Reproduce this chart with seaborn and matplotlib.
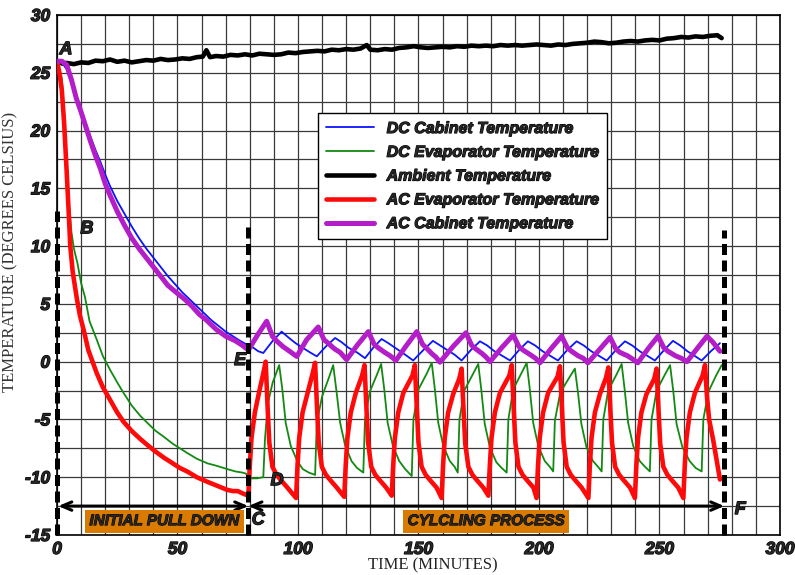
import matplotlib
matplotlib.use("Agg")
import matplotlib.pyplot as plt
import matplotlib.patheffects as pe
import seaborn as sns

# ---------- data (time in minutes, temperature in deg C) ----------
DC_CAB_T = [0, 2, 4, 6, 8, 10, 12, 14, 16, 18, 20, 22, 25, 28, 31, 34, 37, 40, 43, 46, 49, 52, 55, 58,
            61, 64, 67, 70, 73, 76, 79.4,
            81.5, 83.5, 85.6, 89.5, 93.2, 96, 99, 102, 105, 107.8, 111.5, 115.4, 118, 121, 124.5, 127.8,
            131.2, 134.7, 137.5, 141, 144.5, 147.8, 152, 156, 159, 162, 165, 167.9, 171.7, 175.5, 178.5,
            181.5, 184.8, 188, 191.7, 195.4, 198.4, 201.5, 204.7, 207.9, 211.7, 215.6, 218.6, 221.7,
            224.9, 228.1, 231.9, 235.7, 238.7, 241.8, 245, 248.1, 251.9, 255.6, 258.6, 261.6, 264.6,
            267.5, 271.3, 275.1]
DC_CAB_V = [26.0, 25.9, 25.3, 24.1, 23.0, 21.8, 20.6, 19.4, 18.3, 17.3, 16.2, 15.2, 13.9, 12.8, 11.7,
            10.7, 9.8, 9.0, 8.2, 7.4, 6.7, 6.0, 5.4, 4.8, 4.2, 3.6, 3.1, 2.6, 2.2, 1.8, 1.4,
            1.2, 0.9, 0.75, 1.8, 2.6, 2.1, 1.6, 1.2, 0.8, 0.46, 1.3, 2.05, 1.7, 1.2, 0.8, 0.3,
            1.2, 1.96, 1.6, 1.1, 0.6, 0.1, 1.0, 1.8, 1.4, 1.0, 0.6, 0.1, 1.0, 1.76, 1.4,
            0.9, 0.5, 0.1, 1.0, 1.76, 1.4, 0.9, 0.5, 0.1, 1.0, 1.76, 1.4, 0.9,
            0.5, 0.1, 1.0, 1.76, 1.4, 0.9, 0.5, 0.1, 1.0, 1.8, 1.4, 0.9, 0.5,
            0.1, 0.9, 1.6]

DC_EVAP_T = [0, 2, 3, 4, 5, 6, 7, 8.5, 10, 11.6, 13.5, 16.5, 19, 22, 25, 27.6, 31, 34.6, 38, 41, 44.3,
             48, 51, 54, 58, 62.4, 66, 70.7, 74, 77, 78.5, 79.4, 83, 85.6,
             86.3, 87.5, 89.5, 92.2, 93.5, 94.9, 97.0, 99.7, 102, 104.5, 107.1,
             107.8, 110.0, 112.8, 114.6, 116.0, 117.5, 119.5, 122.2, 124.5, 127.1,
             127.8, 129.8, 132.6, 134.5, 135.8, 137.2, 139.4, 142.0, 144.5, 147.2,
             147.9, 150.0, 153.5, 155.5, 156.8, 158.2, 160.3, 163.0, 165.0, 166.3,
             167.0, 169.0, 172.5, 174.8, 176.1, 177.5, 179.6, 182.3, 184.5, 186.6,
             187.3, 189.3, 192.7, 194.9, 196.2, 197.6, 199.7, 202.4, 204.5, 205.9,
             206.6, 208.8, 212.5, 214.9, 216.2, 217.6, 219.7, 222.4, 224.5, 226.0,
             226.7, 228.7, 232.2, 234.3, 235.6, 237.0, 239.1, 241.8, 244.0, 246.0,
             246.7, 248.8, 252.3, 254.4, 255.7, 257.1, 259.5, 262.5, 265.0, 267.5,
             268.2, 270.3, 273.5, 275.8]
DC_EVAP_V = [26.0, 24.5, 21.5, 17.5, 13.5, 11.2, 9.8, 8.5, 6.8, 5.6, 3.5, 1.9, 0.5, -0.7, -1.8, -2.7,
             -3.8, -4.7, -5.4, -6.0, -6.5, -7.1, -7.5, -7.9, -8.4, -8.8, -9.0, -9.3, -9.5, -9.6, -9.7,
             -10.1, -10.1, -10.0,
             -6.7, -3.6, -1.8, -0.3, -2.4, -5.3, -7.3, -8.6, -9.3, -9.6, -9.8,
             -5.3, -3.0, -1.4, -0.3, -2.6, -5.3, -7.2, -8.6, -9.2, -9.6,
             -5.0, -2.6, -1.2, -0.2, -2.4, -5.3, -7.3, -8.6, -9.3, -9.9,
             -5.0, -2.4, -1.0, -0.1, -2.4, -5.3, -7.3, -8.6, -9.1, -9.6,
             -5.0, -2.5, -1.1, -0.2, -2.5, -5.4, -7.4, -8.7, -9.2, -9.6,
             -5.0, -2.4, -1.0, -0.1, -2.4, -5.3, -7.3, -8.6, -9.1, -9.5,
             -5.1, -2.7, -1.4, -0.6, -2.7, -5.4, -7.4, -8.6, -9.1, -9.5,
             -5.0, -2.5, -1.1, -0.2, -2.5, -5.3, -7.3, -8.6, -9.1, -9.5,
             -5.0, -2.5, -1.1, -0.3, -2.5, -5.4, -7.4, -8.6, -9.2, -9.5,
             -5.0, -2.6, -1.2, -0.3]

AMB_T = [2, 4, 7, 10, 13, 16, 19, 22, 25, 28, 31, 34, 37, 40, 43, 46, 49, 52, 55, 58, 60.5, 62, 63.5,
         66, 69, 72, 75, 78, 81, 84, 87, 90, 93, 96, 99, 102, 105, 108, 111, 114, 117, 120, 123, 126,
         128.5, 130, 133, 136, 139, 142, 145, 148, 151, 154, 157, 160, 163, 166, 169, 172, 175, 178,
         181, 184, 187, 190, 193, 196, 199, 202, 205, 208, 211, 214, 217, 220, 223, 226, 229, 232,
         235, 238, 241, 244, 247, 250, 253, 256, 259, 262, 265, 268, 271, 274, 275.8]
AMB_V = [25.8, 25.85, 25.75, 25.9, 25.85, 26.05, 26.0, 26.15, 25.95, 26.05, 25.9, 26.0, 26.1, 26.05,
         26.2, 26.1, 26.15, 26.25, 26.2, 26.35, 26.4, 26.95, 26.35, 26.45, 26.4, 26.55, 26.5, 26.6,
         26.5, 26.65, 26.6, 26.55, 26.6, 26.75, 26.7, 26.8, 26.85, 26.9, 26.85, 27.0, 26.95, 27.05,
         27.0, 27.1, 27.4, 27.0, 26.95, 27.05, 27.0, 27.15, 27.2, 27.3, 27.2, 27.15, 27.2, 27.25,
         27.2, 27.3, 27.25, 27.35, 27.3, 27.35, 27.3, 27.4, 27.35, 27.4, 27.35, 27.4, 27.45, 27.4,
         27.35, 27.45, 27.4, 27.5, 27.55, 27.6, 27.7, 27.65, 27.55, 27.6, 27.7, 27.75, 27.7, 27.8,
         27.85, 27.8, 27.95, 28.0, 28.1, 28.05, 28.15, 28.1, 28.2, 28.25, 28.0]

AC_EVAP_T = [0, 1, 2, 3, 4, 5, 5.5, 6.5, 8.2, 9.5, 11, 13, 16.5, 19, 22, 25, 27.6, 31, 34.6, 38, 41,
             44.3, 48, 51, 54, 58, 62.4, 66, 70.7, 73, 75, 77, 79.4,
             80.0, 80.7, 82.1, 83.8, 85.6, 86.6, 87.4, 88.1, 89.4, 91.1, 93.1, 95.6, 99.2,
             99.8, 100.5, 101.9, 104.0, 106.1, 107.1, 107.9, 108.6, 109.9, 111.6, 113.6, 116.1, 119.2,
             119.8, 120.5, 121.9, 124.0, 126.6, 127.6, 128.4, 129.1, 130.4, 132.1, 134.1, 136.6, 138.9,
             139.5, 140.2, 141.6, 143.7, 147.5, 148.5, 149.3, 150.0, 151.3, 153.0, 155.0, 157.5, 159.6,
             160.2, 160.9, 162.3, 164.4, 166.9, 167.9, 168.7, 169.4, 170.7, 172.4, 174.4, 176.9, 179.0,
             179.6, 180.3, 181.7, 183.8, 187.7, 188.7, 189.5, 190.2, 191.5, 193.2, 195.2, 197.7, 199.0,
             199.6, 200.3, 201.7, 203.8, 207.7, 208.7, 209.5, 210.2, 211.5, 213.2, 215.2, 217.7, 220.5,
             221.1, 221.8, 223.2, 225.3, 227.8, 228.8, 229.6, 230.3, 231.6, 233.3, 235.3, 237.8, 239.8,
             240.4, 241.1, 242.5, 244.6, 247.8, 248.8, 249.6, 250.3, 251.6, 253.3, 255.3, 257.8, 259.9,
             260.5, 261.2, 262.6, 264.7, 267.9, 268.9, 269.7, 270.6, 272.3, 273.8, 275.1]
AC_EVAP_V = [26.0, 25.0, 23.5, 20.5, 16.5, 12.3, 10.0, 7.8, 5.5, 4.0, 2.8, 1.0, -1.0, -2.2, -3.3, -4.4,
             -5.2, -6.0, -6.7, -7.3, -7.8, -8.3, -8.8, -9.2, -9.5, -10.0, -10.4, -10.7, -11.1, -11.2,
             -11.2, -11.4, -11.6,
             -9.0, -6.6, -4.4, -2.7, -1.0, 0.0, -4.0, -7.0, -9.1, -9.8, -10.3, -10.9, -11.8,
             -9.0, -6.6, -4.4, -2.7, -1.0, -0.1, -4.0, -7.0, -9.1, -9.8, -10.3, -10.9, -11.7,
             -9.0, -6.6, -4.4, -2.7, -1.2, -0.3, -4.0, -7.0, -9.1, -9.8, -10.3, -10.9, -11.6,
             -9.0, -6.6, -4.4, -2.7, -1.2, -0.3, -4.0, -7.0, -9.1, -9.8, -10.3, -10.9, -11.8,
             -9.0, -6.6, -4.4, -2.8, -1.5, -0.6, -4.2, -7.1, -9.1, -9.8, -10.3, -10.9, -11.6,
             -9.0, -6.6, -4.4, -2.7, -1.2, -0.3, -4.0, -7.0, -9.1, -9.8, -10.3, -10.9, -11.8,
             -9.0, -6.6, -4.4, -2.7, -1.3, -0.4, -4.0, -7.0, -9.1, -9.8, -10.3, -10.9, -11.8,
             -9.0, -6.6, -4.4, -2.8, -1.4, -0.5, -4.1, -7.0, -9.1, -9.8, -10.3, -10.9, -11.8,
             -9.0, -6.6, -4.4, -2.8, -1.5, -0.6, -4.2, -7.1, -9.1, -9.8, -10.3, -10.9, -11.8,
             -9.0, -6.6, -4.4, -2.7, -1.2, -0.3, -3.0, -5.0, -6.8, -8.6, -10.2]

AC_CAB_T = [0, 2, 4, 6, 8, 10, 12, 14, 16, 18, 20, 22, 25, 28, 31, 34, 37, 40, 43, 46, 50, 53, 56, 59,
            62, 66, 70, 74, 77, 79.4,
            83.2, 87.0, 89.4, 91.1, 93.8, 96.5, 99.5,
            103.6, 108.4, 110.8, 112.5, 115.2, 117.5, 120.2,
            124.5, 129.2, 131.6, 133.3, 136.0, 138.3, 140.6,
            145.0, 149.3, 151.7, 153.2, 155.5, 157.2, 158.9,
            164.3, 169.7, 172.1, 173.8, 176.4, 178.0, 179.7,
            184.5, 189.3, 191.7, 193.4, 196.4, 198.5, 200.4,
            204.9, 209.4, 211.8, 213.5, 216.3, 218.3, 220.3,
            224.9, 229.5, 231.9, 233.6, 236.8, 239.0, 241.0,
            245.2, 249.4, 251.8, 253.5, 256.7, 259.0, 261.4,
            265.5, 269.7, 272.1, 275.1]
AC_CAB_V = [26.0, 26.0, 25.7, 24.4, 22.8, 21.6, 20.3, 19.0, 17.8, 16.7, 15.4, 14.4, 13.0, 11.8, 10.7,
            9.8, 9.0, 8.2, 7.4, 6.6, 5.9, 5.4, 4.8, 4.1, 3.6, 2.8, 2.2, 1.8, 1.4, 1.0,
            2.3, 3.5, 2.2, 1.8, 1.3, 0.9, 0.45,
            1.9, 3.0, 1.9, 1.6, 1.1, 0.8, 0.17,
            1.4, 2.6, 1.5, 1.2, 0.8, 0.5, 0.1,
            1.4, 2.6, 1.5, 1.2, 0.7, 0.4, -0.05,
            1.3, 2.5, 1.4, 1.1, 0.7, 0.4, 0.0,
            1.2, 2.3, 1.3, 1.0, 0.6, 0.3, -0.1,
            1.1, 2.2, 1.2, 0.9, 0.5, 0.3, -0.1,
            1.0, 2.1, 1.1, 0.8, 0.5, 0.2, -0.1,
            1.1, 2.2, 1.2, 0.9, 0.5, 0.3, 0.0,
            1.1, 2.2, 1.7, 0.9]

PHASE_LINES = [0, 79.4, 276.9]
PHASE_TOPS = [13.0, 11.9, 11.4]
POINT_LABELS = ["A", "B", "E", "C", "D", "F"]
POINT_XY = [(3.7, 27.0), (12.4, 11.5), (76.0, 0.1), (83.5, -13.7), (91.3, -10.3), (283.5, -12.8)]

# ---------- figure ----------
sns.set_style("white")
plt.rcParams["font.family"] = ["Liberation Sans", "DejaVu Sans"]
plt.rcParams["axes.unicode_minus"] = False

heavy = [pe.withStroke(linewidth=0.9, foreground="black")]

fig = plt.figure(figsize=(7.95, 5.75), dpi=100)
ax = fig.add_axes([0.0717, 0.0696, 0.9094, 0.9043])

series = [
    (DC_CAB_T, DC_CAB_V, "#0a14ff", 1.3, "DC Cabinet Temperature", 4),
    (DC_EVAP_T, DC_EVAP_V, "#128a12", 1.3, "DC Evaporator Temperature", 3),
    (AMB_T, AMB_V, "black", 3.3, "Ambient Temperature", 2),
    (AC_EVAP_T, AC_EVAP_V, "#ff0a0a", 3.3, "AC Evaporator Temperature", 5),
    (AC_CAB_T, AC_CAB_V, "#b41ec8", 3.6, "AC Cabinet Temperature", 6),
]
for t, v, col, lw, lab, z in series:
    sns.lineplot(x=t, y=v, ax=ax, color=col, linewidth=lw, label=lab,
                 sort=False, estimator=None, zorder=z)

ax.set_xlim(0, 300)
ax.set_ylim(-15, 30)
ax.set_xticks(range(0, 301, 50))
ax.set_xticks(range(0, 301, 10), minor=True)
ax.set_yticks(range(-15, 31, 5))
ax.set_yticks([-15 + 2.5 * i for i in range(19)], minor=True)
ax.grid(which="both", color="#3a3a3a", linewidth=0.9)
ax.set_axisbelow(True)
ax.tick_params(which="both", length=0, pad=5)
for lbl in ax.get_xticklabels() + ax.get_yticklabels():
    lbl.set_fontsize(12.5)
    lbl.set_fontweight("bold")
    lbl.set_fontstyle("italic")
    lbl.set_path_effects(heavy)
for sp in ax.spines.values():
    sp.set_color("black")
    sp.set_linewidth(1.2)

serif = ["Liberation Serif", "DejaVu Serif"]
ax.set_xlabel("TIME (MINUTES)", family=serif, fontsize=12, color="#222222")
ax.set_ylabel("TEMPERATURE (DEGREES CELSIUS)", family=serif, fontsize=12, color="#333333")
ax.xaxis.set_label_coords(0.52, -0.043)
ax.yaxis.set_label_coords(-0.054, 0.545)

# phase separators (thick dashed verticals)
for x0, top in zip(PHASE_LINES, PHASE_TOPS):
    ax.plot([x0, x0], [-15, top], color="black", linewidth=3.6, linestyle=(0, (2.2, 1.1)),
            clip_on=False, zorder=7)

# double arrows along the bottom
arr = dict(arrowstyle="<->,head_length=0.7,head_width=0.3", color="black", lw=2.2,
           shrinkA=0, shrinkB=0)
ax.annotate("", xy=(0.5, -12.5), xytext=(79.4, -12.5), arrowprops=arr, zorder=8)
ax.annotate("", xy=(79.4, -12.5), xytext=(276.9, -12.5), arrowprops=arr, zorder=8)

box = dict(facecolor="#d97b00", edgecolor="none", boxstyle="square,pad=0.3")
for x0, txt in [(44.5, "INITIAL PULL DOWN"), (178, "CYLCLING PROCESS")]:
    t = ax.text(x0, -13.8, txt, fontsize=11, fontweight="bold", fontstyle="italic",
                ha="center", va="center", bbox=box, zorder=9)
    t.set_path_effects([pe.withStroke(linewidth=0.7, foreground="black")])

for lab, (px, py) in zip(POINT_LABELS, POINT_XY):
    t = ax.text(px, py, lab, fontsize=13, fontweight="bold", fontstyle="italic", ha="center",
                va="center", zorder=10, clip_on=False)
    t.set_path_effects(heavy)

leg = ax.legend(loc="upper left", bbox_to_anchor=(0.361, 0.8115), borderaxespad=0,
                frameon=True, fancybox=False, framealpha=1, edgecolor="black",
                handlelength=3.0, borderpad=0.5, labelspacing=0.55,
                prop=dict(weight="bold", style="italic", size=11.5))
leg.get_frame().set_linewidth(1.0)
leg.set_zorder(12)
for txt in leg.get_texts():
    txt.set_path_effects([pe.withStroke(linewidth=0.8, foreground="black")])

fig.savefig("out.png", dpi=100)
